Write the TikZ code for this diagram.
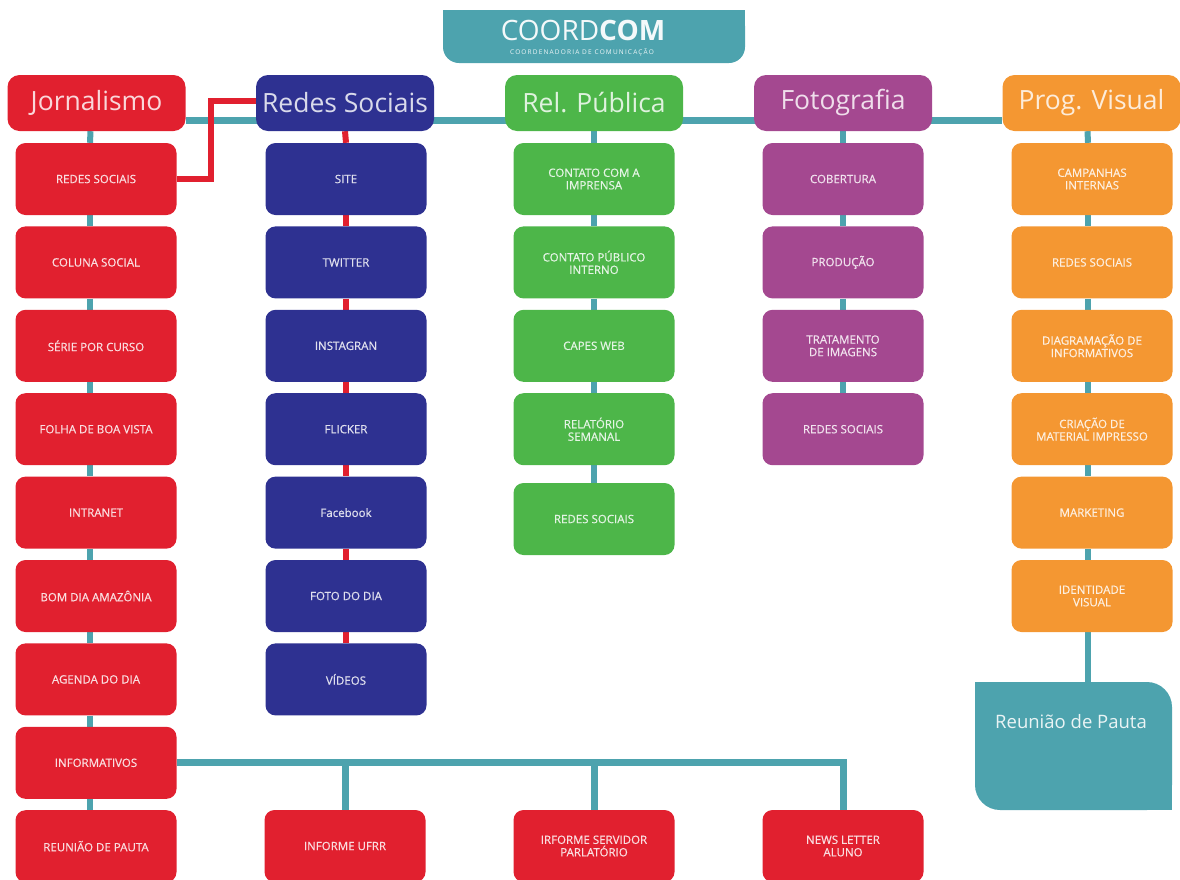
\documentclass[tikz,border=0pt]{standalone}
\usepackage{fontspec}
\setmainfont{Open Sans}
\newfontfamily\semib{Open Sans}[FakeBold=0.6]
\usetikzlibrary{backgrounds}
\definecolor{cred}{HTML}{E1202F}
\definecolor{cblue}{HTML}{2E3191}
\definecolor{cgreen}{HTML}{4DB649}
\definecolor{cpurple}{HTML}{A44890}
\definecolor{corange}{HTML}{F49732}
\definecolor{cteal}{HTML}{4DA3AE}
\begin{document}
\begin{tikzpicture}[x=1pt,y=-1pt,
  hdr/.style={fill=#1, text=white!82!#1, rounded corners=12pt, minimum width=178pt, minimum height=56pt,
              inner sep=0pt, font=\fontsize{26.5}{30}\selectfont},
  sub/.style={fill=#1, text=white!85!#1, rounded corners=10pt, minimum width=161pt, minimum height=72pt,
              inner sep=0pt, align=center, font=\semib\fontsize{11.5}{12.5}\selectfont},
  tline/.style={draw=cteal, line width=6pt},
  mline/.style={draw=cteal, line width=7pt},
  rline/.style={draw=cred, line width=6pt},
]
\useasboundingbox (0,0) rectangle (1180,879);

% title
\fill[cteal, rounded corners=16pt] (443,10) rectangle (745,63);
\fill[cteal] (443,10) rectangle (745,35);
\node (title) at (583,30) {\fontsize{28}{30}\selectfont\color{white!94!cteal}COORD\textbf{COM}};
\node (subtitle) at (582,52) {\fontsize{6.5}{7}\selectfont\addfontfeature{LetterSpace=18}\color{white!90!cteal}COORDENADORIA DE COMUNICAÇÃO};

% headers
\node[hdr=cred]    (jor) at (96.5,103) {Jornalismo};
\node[hdr=cblue]   (red) at (345,103) {Redes Sociais};
\node[hdr=cgreen]  (rel) at (594,103) {Rel. Pública};
\node[hdr=cpurple] (fot) at (843,103) {Fotografia};
\node[hdr=corange] (prg) at (1091.5,103) {Prog. Visual};

% Jornalismo column
\foreach \t [count=\i from 0] in {REDES SOCIAIS, COLUNA SOCIAL, SÉRIE POR CURSO, FOLHA DE BOA VISTA,
   INTRANET, BOM DIA AMAZÔNIA, AGENDA DO DIA, INFORMATIVOS, REUNIÃO DE PAUTA}
  \node[sub=cred] (j\i) at (96,179+83.4*\i) {\t};

% Redes Sociais column
\foreach \t [count=\i from 0] in {SITE, TWITTER, INSTAGRAN, FLICKER, Facebook, FOTO DO DIA, VÍDEOS}
  \node[sub=cblue] (r\i) at (346,179+83.4*\i) {\t};

% Rel. Publica column
\node[sub=cgreen] (g0) at (594,179) {CONTATO COM A\\IMPRENSA};
\node[sub=cgreen] (g1) at (594,262.4) {CONTATO PÚBLICO\\INTERNO};
\node[sub=cgreen] (g2) at (594,345.8) {CAPES WEB};
\node[sub=cgreen] (g3) at (594,429.2) {RELATÓRIO\\SEMANAL};
\node[sub=cgreen] (g4) at (594,519) {REDES SOCIAIS};

% Fotografia column
\foreach \t [count=\i from 0] in {COBERTURA, PRODUÇÃO, {TRATAMENTO\\DE IMAGENS}, REDES SOCIAIS}
  \node[sub=cpurple] (f\i) at (843,179+83.4*\i) {\t};

% Prog. Visual column
\foreach \t [count=\i from 0] in {{CAMPANHAS\\INTERNAS}, REDES SOCIAIS, {DIAGRAMAÇÃO DE\\INFORMATIVOS},
   {CRIAÇÃO DE\\MATERIAL IMPRESSO}, MARKETING, {IDENTIDADE\\VISUAL}}
  \node[sub=corange] (p\i) at (1092,179+83.4*\i) {\t};

% bottom row
\node[sub=cred] (b1) at (345,846) {INFORME UFRR};
\node[sub=cred] (b2) at (594,846) {IRFORME SERVIDOR\\PARLATÓRIO};
\node[sub=cred] (b3) at (843,846) {NEWS LETTER\\ALUNO};

% Reuniao de Pauta box
\node[fill=cteal, rounded corners=25pt, minimum width=197pt, minimum height=128pt, inner sep=0pt] (rp) at (1073.5,746) {};
\fill[cteal] (rp.north west) rectangle ++(40,40);
\fill[cteal] (rp.south east) rectangle ++(-40,-40);
\node[text=white!88!cteal, font=\fontsize{18.5}{20}\selectfont] (rpt) at (1071,722) {Reunião de Pauta};

\begin{pgfonlayer}{background}
  % main horizontal line
  \draw[mline] ([yshift=-17pt]jor.east) -- ([yshift=-17pt]prg.west);
  % Jornalismo chain
  \draw[tline] ([xshift=-6pt]jor.south) -- ([xshift=-6pt]j0.north);
  \foreach \a/\b in {0/1,1/2,2/3,3/4,4/5,5/6,6/7,7/8}
    \draw[tline] ([xshift=-6pt]j\a.south) -- ([xshift=-6pt]j\b.north);
  % Redes chain (red)
  \draw[rline] (red.south) -- (r0.north);
  \foreach \a/\b in {0/1,1/2,2/3,3/4,4/5,5/6}
    \draw[rline] (r\a.south) -- (r\b.north);
  % Rel chain
  \draw[tline] (rel.south) -- (g0.north);
  \foreach \a/\b in {0/1,1/2,2/3,3/4}
    \draw[tline] (g\a.south) -- (g\b.north);
  % Foto chain
  \draw[tline] (fot.south) -- (f0.north);
  \foreach \a/\b in {0/1,1/2,2/3}
    \draw[tline] (f\a.south) -- (f\b.north);
  % Prog chain
  \draw[tline] ([xshift=-4pt]prg.south) -- ([xshift=-4pt]p0.north);
  \foreach \a/\b in {0/1,1/2,2/3,3/4,4/5}
    \draw[tline] ([xshift=-4pt]p\a.south) -- ([xshift=-4pt]p\b.north);
  \draw[tline] ([xshift=-4pt]p5.south) -- ([xshift=-4pt]p5.south |- rp.north);
  % red link Jornalismo/REDES SOCIAIS -> Redes Sociais
  \draw[rline] (j0.east) -- ([xshift=34pt]j0.east) |- ([yshift=2pt]red.west);
  % informativos branch
  \draw[mline] (j7.east) -| (b3.north);
  \draw[mline] (b1.north) -- (b1.north |- j7.east);
  \draw[mline] (b2.north) -- (b2.north |- j7.east);
\end{pgfonlayer}
\end{tikzpicture}
\end{document}
